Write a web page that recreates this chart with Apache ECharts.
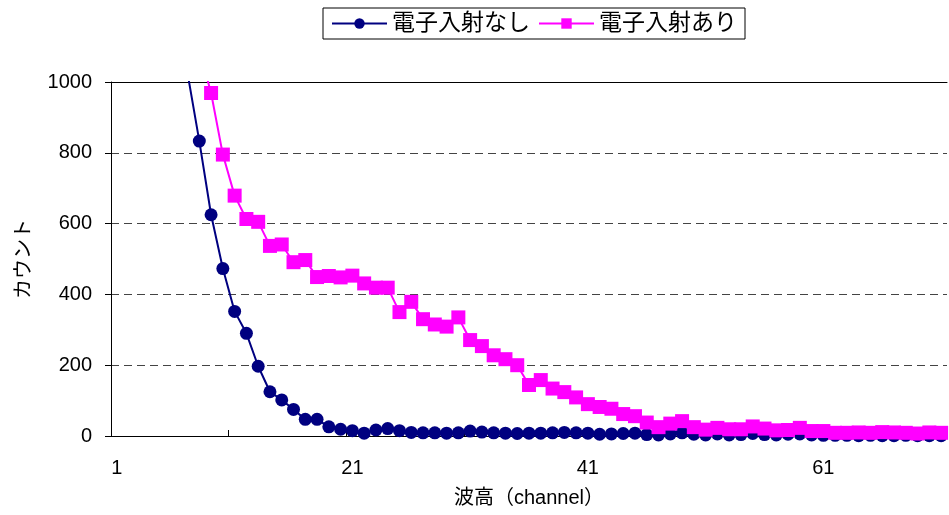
<!DOCTYPE html>
<html>
<head>
<meta charset="utf-8">
<script src="https://cdn.jsdelivr.net/npm/echarts@6/dist/echarts.min.js"></script>
<style>
  html, body { margin: 0; padding: 0; background: #fff; }
  #chart { width: 949px; height: 515px; }
</style>
</head>
<body>
<div id="chart"></div>
<script>
// 波高 channel 1..71
const channels = [1,2,3,4,5,6,7,8,9,10,11,12,13,14,15,16,17,18,19,20,
  21,22,23,24,25,26,27,28,29,30,31,32,33,34,35,36,37,38,39,40,
  41,42,43,44,45,46,47,48,49,50,51,52,53,54,55,56,57,58,59,60,
  61,62,63,64,65,66,67,68,69,70,71];

// 電子入射なし (first points run off the top of the plot)
const noBeam = [5200,4100,3200,2500,1900,1400,1025,833,625,473,
  352,290,197,125,102,75,47,47,26,19,
  15,8,17,21,15,10,9,9,8,9,
  14,11,9,8,7,8,8,9,10,9,
  8,5,6,7,8,4,3,6,9,5,
  3,6,3,4,7,4,3,5,6,3,
  2,2,2,1,2,1,1,2,1,1,1];

// 電子入射あり
const withBeam = [6000,4800,3800,3000,2300,1800,1400,1090,969,795,
  679,613,605,537,541,491,497,449,452,448,
  453,431,419,419,350,379,330,315,309,335,
  271,254,228,217,200,144,158,134,124,109,
  90,82,77,62,56,38,25,35,42,25,
  18,23,19,19,27,21,16,17,23,14,
  14,9,9,10,9,11,10,9,7,10,9];

const yTicks = [0, 200, 400, 600, 800, 1000];

const font = 'Liberation Sans, Arial, Noto Sans CJK JP, sans-serif';

const chart = echarts.init(document.getElementById('chart'));

const option = {
  animation: false,
  backgroundColor: '#fff',
  legend: {
    left: 323,
    top: 8,
    padding: [4, 8, 4, 8],
    itemGap: 8,
    itemWidth: 55,
    itemHeight: 13,
    borderColor: '#000',
    borderWidth: 1,
    textStyle: { fontFamily: font, fontSize: 23, color: '#000' },
    data: ['電子入射なし', '電子入射あり']
  },
  grid: { left: 111, right: 2, top: 82, bottom: 79, containLabel: false },
  xAxis: [{
    type: 'category',
    data: channels,
    boundaryGap: true,
    name: '波高（channel）',
    nameLocation: 'middle',
    nameGap: 52,
    nameTextStyle: { fontFamily: font, fontSize: 20, color: '#000' },
    axisLine: { lineStyle: { color: '#000', width: 1 } },
    axisTick: { show: true, inside: true, length: 6, interval: 9, lineStyle: { color: '#000' } },
    axisLabel: { interval: 19, margin: 22, fontFamily: font, fontSize: 20, color: '#000' },
    splitLine: { show: false }
  }, {
    type: 'category',
    data: channels,
    position: 'top',
    axisLine: { lineStyle: { color: '#000', width: 1 } },
    axisTick: { show: false },
    axisLabel: { show: false }
  }],
  yAxis: {
    type: 'value',
    min: yTicks[0],
    max: yTicks[yTicks.length - 1],
    interval: 200,
    name: 'カウント',
    nameLocation: 'middle',
    nameGap: 77,
    nameRotate: 90,
    nameTextStyle: { fontFamily: font, fontSize: 20, color: '#000' },
    axisLine: { show: true, lineStyle: { color: '#000', width: 1 } },
    axisTick: { show: true, length: 6, lineStyle: { color: '#000' } },
    axisLabel: { margin: 19, fontFamily: font, fontSize: 20, color: '#000', formatter: v => String(v) },
    splitLine: { show: true, lineStyle: { color: '#444', type: [8, 5], width: 1 } }
  },
  series: [{
    name: '電子入射なし',
    type: 'line',
    data: noBeam,
    clip: true,
    showAllSymbol: true,
    symbol: 'circle',
    symbolSize: 13,
    lineStyle: { color: '#000080', width: 2 },
    itemStyle: { color: '#000080' }
  }, {
    name: '電子入射あり',
    type: 'line',
    data: withBeam,
    clip: true,
    showAllSymbol: true,
    symbol: 'rect',
    symbolSize: 14,
    lineStyle: { color: '#FF00FF', width: 2 },
    itemStyle: { color: '#FF00FF' }
  }]
};

chart.setOption(option);
</script>
</body>
</html>
